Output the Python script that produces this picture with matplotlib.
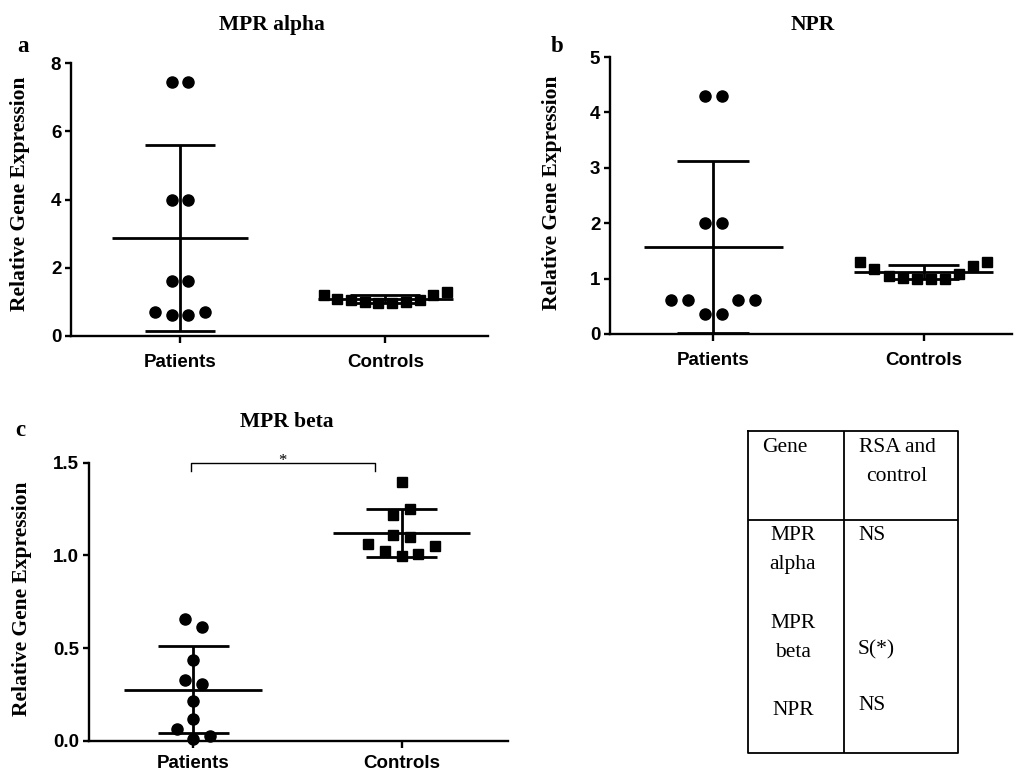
import numpy as np
import matplotlib
matplotlib.use("Agg")
import matplotlib.pyplot as plt

# values
groups = ["Patients", "Controls"]

alpha_pat = [7.43, 7.43, 3.98, 3.98, 1.61, 1.61, 0.69, 0.62, 0.62, 0.69]
alpha_ctl = [1.20, 1.09, 1.06, 1.01, 0.96, 0.96, 1.01, 1.06, 1.19, 1.28]

npr_pat = [4.29, 4.29, 2.00, 2.00, 0.61, 0.61, 0.37, 0.37, 0.61, 0.61]
npr_ctl = [1.30, 1.18, 1.05, 1.01, 0.99, 0.99, 1.00, 1.09, 1.23, 1.30]

beta_pat = [0.656, 0.615, 0.435, 0.327, 0.306, 0.214, 0.115, 0.061, 0.025, 0.007]
beta_ctl = [1.397, 1.218, 1.248, 1.110, 1.097, 1.059, 1.025, 0.998, 1.007, 1.050]

# horizontal scatter of points inside a group
alpha_pat_dx = [-0.04, 0.04, -0.04, 0.04, -0.04, 0.04, -0.12, -0.04, 0.04, 0.12]
npr_pat_dx = [-0.04, 0.04, -0.04, 0.04, -0.2, -0.12, -0.04, 0.04, 0.12, 0.2]
beta_pat_dx = [-0.04, 0.04, 0, -0.04, 0.04, 0, 0, -0.08, 0.08, 0]
beta_ctl_dx = [0, -0.04, 0.04, -0.04, 0.04, -0.16, -0.08, 0, 0.08, 0.16]
row_dx = list(np.linspace(-0.3, 0.3, 10))

table_genes = ["MPR\nalpha", "MPR\nbeta", "NPR"]
table_result = ["NS", "S(*)", "NS"]

serif = "Liberation Serif"
sans = "Liberation Sans"
lw = 2.0
W, H = 1016, 773

fig = plt.figure(figsize=(10.16, 7.73), dpi=100)


def ftext(x, y, s, **kw):
    # place text by pixel position measured from the top-left corner
    fig.text(x / W, 1 - y / H, s, ha="center", va="center", **kw)


def panel(rect, pat, pat_dx, ctl, ctl_dx, ylim, yticks, ytlabels, xlim, title, title_xy,
          letter, letter_xy, ylab_xy, xpad=8):
    ax = fig.add_axes(rect)
    for i, (vals, dx, mk, ms) in enumerate([(pat, pat_dx, "o", 8), (ctl, ctl_dx, "s", 7.5)]):
        vals = np.array(vals)
        ax.plot(i + np.array(dx), vals, mk, color="black", ms=ms, clip_on=False, zorder=3)
        m = vals.mean()
        sd = vals.std(ddof=1)
        ax.hlines(m, i - 0.33, i + 0.33, color="black", lw=lw, zorder=4)
        ax.vlines(i, m - sd, m + sd, color="black", lw=lw, zorder=4)
        ax.hlines([m - sd, m + sd], i - 0.17, i + 0.17, color="black", lw=lw, zorder=4)
    ax.set_xlim(*xlim)
    ax.set_ylim(*ylim)
    ax.set_yticks(yticks)
    ax.set_yticklabels(ytlabels, fontfamily=sans, fontweight="bold", fontsize=13.5)
    ax.set_xticks([0, 1])
    ax.set_xticklabels(groups, fontfamily=sans, fontweight="bold", fontsize=13.5)
    for s in ["top", "right"]:
        ax.spines[s].set_visible(False)
    for s in ["left", "bottom"]:
        ax.spines[s].set_linewidth(1.7)
    ax.tick_params(axis="x", length=5, width=1.7, pad=xpad)
    ax.tick_params(axis="y", length=4, width=1.7, pad=3)
    ftext(*ylab_xy, "Relative Gene Expression", rotation=90, fontfamily=serif,
          fontweight="bold", fontsize=15.5)
    ftext(*title_xy, title, fontfamily=serif, fontweight="bold", fontsize=15.5)
    ftext(*letter_xy, letter, fontfamily=serif, fontweight="bold", fontsize=16.5)
    return ax


panel([71 / W, 1 - 336 / H, 417 / W, 273 / H], alpha_pat, alpha_pat_dx, alpha_ctl, row_dx,
      (0, 8), [0, 2, 4, 6, 8], ["0", "2", "4", "6", "8"], (-0.53, 1.5),
      "MPR alpha", (272, 25), "a", (23, 46), (20, 194))
panel([610 / W, 1 - 334 / H, 402 / W, 277 / H], npr_pat, npr_pat_dx, npr_ctl, row_dx,
      (0, 5), [0, 1, 2, 3, 4, 5], ["0", "1", "2", "3", "4", "5"], (-0.49, 1.42),
      "NPR", (813, 25), "b", (557, 46), (552, 193))
axc = panel([89 / W, 1 - 740.7 / H, 419 / W, 278 / H], beta_pat, beta_pat_dx, beta_ctl, beta_ctl_dx,
            (0, 1.5), [0.0, 0.5, 1.0, 1.5], ["0.0", "0.5", "1.0", "1.5"], (-0.5, 1.51),
            "MPR beta", (287, 422), "c", (20, 431), (22, 599), xpad=5)

# significance bracket
axc.plot([-0.01, -0.01, 0.87, 0.87], [1.457, 1.5, 1.5, 1.457], color="black", lw=1.0, clip_on=False)
axc.text(0.43, 1.49, "*", ha="center", va="baseline", fontsize=12, fontfamily=serif)

# summary table
tab = fig.add_axes([747.7 / W, 1 - 752.7 / H, 210.3 / W, 321.7 / H])
tab.set_xlim(747.7, 958)
tab.set_ylim(752.7, 431)
tab.axis("off")
tlw = 1.3
tab.plot([747.7, 958, 958, 747.7, 747.7], [431, 431, 752.7, 752.7, 431], color="black", lw=tlw, clip_on=False)
tab.plot([844, 844], [431, 752.7], color="black", lw=tlw)
tab.plot([747.7, 958], [520, 520], color="black", lw=tlw)
tfs = 15.5
tab.text(762, 447, "Gene", fontfamily=serif, fontsize=tfs, ha="left", va="center")
tab.text(897, 462, "RSA and\ncontrol", fontfamily=serif, fontsize=tfs, ha="center", va="center",
         multialignment="center", linespacing=1.7)
gene_y = [550, 638, 710]
res_y = [535, 650, 705]
for g, gy, r, ry in zip(table_genes, gene_y, table_result, res_y):
    tab.text(793, gy, g, fontfamily=serif, fontsize=tfs, ha="center", va="center",
             multialignment="center", linespacing=1.7)
    tab.text(858, ry, r, fontfamily=serif, fontsize=tfs, ha="left", va="center")

fig.savefig("out.png", dpi=100)
